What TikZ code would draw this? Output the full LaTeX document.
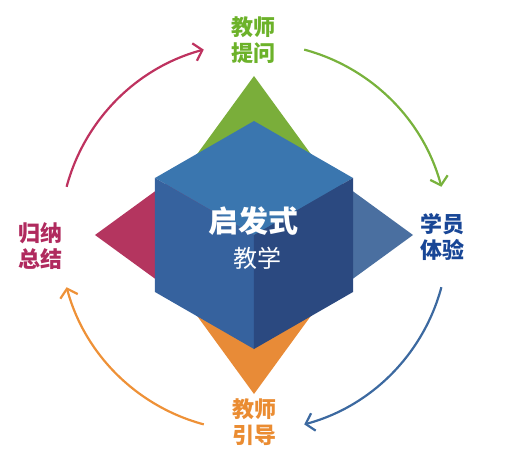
\documentclass[tikz,border=0pt]{standalone}
\usepackage{fontspec}
\newfontfamily\cjk{Noto Sans CJK SC}
\usetikzlibrary{arrows.meta}
\definecolor{askgreen}{RGB}{122,174,58}
\definecolor{sumred}{RGB}{180,53,95}
\definecolor{feelblue}{RGB}{74,111,160}
\definecolor{guideorange}{RGB}{232,139,55}
\definecolor{cubetop}{RGB}{58,118,175}
\definecolor{cubeleft}{RGB}{54,98,158}
\definecolor{cuberight}{RGB}{43,73,128}
\definecolor{asktext}{RGB}{108,178,42}
\definecolor{feeltext}{RGB}{24,70,150}
\definecolor{guidetext}{RGB}{234,140,50}
\definecolor{sumtext}{RGB}{176,42,94}
\definecolor{askarc}{RGB}{120,178,60}
\definecolor{feelarc}{RGB}{60,105,160}
\definecolor{guidearc}{RGB}{238,145,55}
\definecolor{sumarc}{RGB}{190,50,95}
\tikzset{
  lbl/.style={font=\cjk\bfseries\fontsize{22}{26}\selectfont, align=center},
  looparc/.style={line width=2.2pt, -{Straight Barb[length=8pt,width=18pt]}},
}
\begin{document}
\begin{tikzpicture}[x=1pt, y=1pt]
    \useasboundingbox (-254,-220) rectangle (268,235);
    % four points behind the cube
    \fill[askgreen]
        (0,159)--(67,67)--(0,0)--(-67,67)--cycle;
    \fill[feelblue]
        (159,0)--(67,-67)--(0,0)--(67,67)--cycle;
    \fill[guideorange]
        (0,-159)--(-67,-67)--(0,0)--(67,-67)--cycle;
    \fill[sumred]
        (-159,0)--(-67,67)--(0,0)--(-67,-67)--cycle;
    % cube
    \fill[cubetop]
        (0,0)--(-99,57)--(0,114)--(99,57)--cycle;
    \fill[cubeleft]
        (0,0)--(-99,57)--(-99,-57)--(0,-114)--cycle;
    \fill[cuberight]
        (0,0)--(99,57)--(99,-57)--(0,-114)--cycle;
    \node[text=white, font=\cjk\bfseries\fontsize{30}{34}\selectfont] (title) at (0,14) {启发式};
    \node[text=white, font=\cjk\fontsize{24}{28}\selectfont] (sub) at (4,-23) {教学};
    % labels
    \node[lbl, text=asktext] (ask) at (0,195) {教师\\提问};
    \node[lbl, text=feeltext] (feel) at (188,-2) {学员\\体验};
    \node[lbl, text=guidetext] (guide) at (1,-187) {教师\\引导};
    \node[lbl, text=sumtext] (sum) at (-213,-11) {归纳\\总结};
    % cycle
    \coordinate (ring) at (0,-2);
    \draw[looparc, askarc]
        ([shift={(75:194)}]ring) arc[start angle=75, end angle=15, radius=194];
    \draw[looparc, feelarc]
        ([shift={(345:194)}]ring) arc[start angle=345, end angle=285, radius=194];
    \draw[looparc, guidearc]
        ([shift={(255:194)}]ring) arc[start angle=255, end angle=195, radius=194];
    \draw[looparc, sumarc]
        ([shift={(165:194)}]ring) arc[start angle=165, end angle=105, radius=194];
\end{tikzpicture}
\end{document}
